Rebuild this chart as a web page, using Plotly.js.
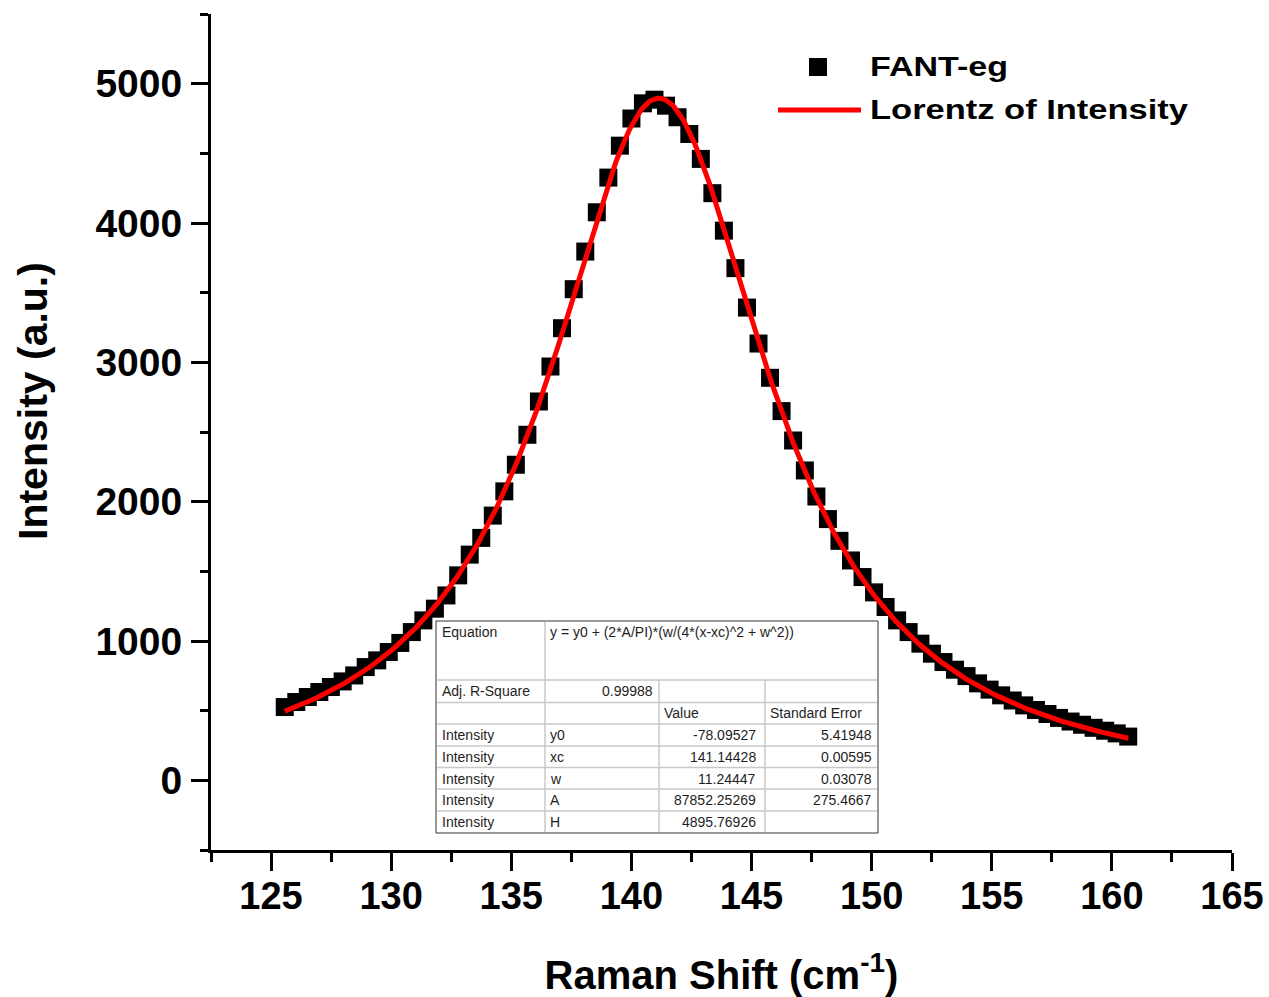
<!DOCTYPE html>
<html>
<head>
<meta charset="utf-8">
<script src="https://cdn.plot.ly/plotly-3.0.1.min.js"></script>
<style>
  html, body { margin: 0; padding: 0; background: #fff; }
  #chart { width: 1269px; height: 997px; }
</style>
</head>
<body>
<div id="chart"></div>
<script>
// Raman band of FANT-eg with its Lorentz fit
const ramanShift = [
  125.57, 126.05, 126.53, 127.01, 127.49, 127.98, 128.46, 128.94, 129.42, 129.90,
  130.38, 130.86, 131.34, 131.82, 132.30, 132.79, 133.27, 133.75, 134.23, 134.71,
  135.19, 135.67, 136.15, 136.63, 137.11, 137.60, 138.08, 138.56, 139.04, 139.52,
  140.00, 140.48, 140.96, 141.44, 141.92, 142.41, 142.89, 143.37, 143.85, 144.33,
  144.81, 145.29, 145.77, 146.25, 146.73, 147.22, 147.70, 148.18, 148.66, 149.14,
  149.62, 150.10, 150.58, 151.06, 151.54, 152.03, 152.51, 152.99, 153.47, 153.95,
  154.43, 154.91, 155.39, 155.87, 156.35, 156.84, 157.32, 157.80, 158.28, 158.76,
  159.24, 159.72, 160.20, 160.68
];
const intensity = [
  526, 562, 598, 634, 670, 710, 753, 813, 861, 921,
  986, 1064, 1148, 1232, 1327, 1471, 1620, 1740, 1900, 2074,
  2265, 2480, 2719, 2970, 3245, 3525, 3795, 4077, 4326, 4555,
  4750, 4859, 4885, 4842, 4759, 4639, 4460, 4214, 3945, 3676,
  3393, 3135, 2889, 2650, 2439, 2224, 2037, 1875, 1719, 1578,
  1459, 1349, 1244, 1148, 1064, 981, 909, 849, 794, 748,
  696, 651, 610, 573, 538, 505, 476, 448, 422, 399,
  377, 356, 337, 314
];

// Fit report
const equationText = 'y = y0 + (2*A/PI)*(w/(4*(x-xc)^2 + w^2))';
const adjRSquare = '0.99988';
const fitParams = ['y0', 'xc', 'w', 'A', 'H'];
const fitValues = ['-78.09527', '141.14428', '11.24447', '87852.25269', '4895.76926'];
const fitErrors = ['5.41948', '0.00595', '0.03078', '275.4667', ''];

// Axis ticks and titles
const xTickVals = [125, 130, 135, 140, 145, 150, 155, 160, 165];
const xTickText = ['125', '130', '135', '140', '145', '150', '155', '160', '165'];
const yTickVals = [0, 1000, 2000, 3000, 4000, 5000];
const yTickText = ['0', '1000', '2000', '3000', '4000', '5000'];
const xTitle = 'Raman Shift (cm<sup>-1</sup>)';
const yTitle = 'Intensity (a.u.)';

const seriesNames = ['FANT-eg', 'Lorentz of Intensity'];

// Lorentz curve evaluated from the fitted parameters over the data span
const y0 = parseFloat(fitValues[0]);
const xc = parseFloat(fitValues[1]);
const w = parseFloat(fitValues[2]);
const A = parseFloat(fitValues[3]);
const fitX = [], fitY = [];
const nFit = 500;
const xStart = ramanShift[0], xEnd = ramanShift[ramanShift.length - 1];
for (let k = 0; k <= nFit; k++) {
  const x = xStart + (xEnd - xStart) * k / nFit;
  fitX.push(x);
  fitY.push(y0 + (2 * A / Math.PI) * (w / (4 * (x - xc) * (x - xc) + w * w)));
}

// Plot frame in pixels (used to place the legend and report table in paper units)
const W = 1269, H = 997;
const M = { l: 211, r: 37, t: 14, b: 147 };
const PW = W - M.l - M.r, PH = H - M.t - M.b;
const px = X => (X - M.l) / PW;
const py = Y => (H - M.b - Y) / PH;

const FONT = 'Liberation Sans, Arial, Helvetica, sans-serif';
const shapes = [];
const annotations = [];

// Y axis title
annotations.push({ xref: 'paper', yref: 'paper', x: px(33), y: py(401),
  xanchor: 'center', yanchor: 'middle', textangle: -90, text: yTitle, showarrow: false,
  font: { family: FONT, size: 41, color: '#000', weight: 700 } });

// Legend
shapes.push({ type: 'rect', xref: 'paper', yref: 'paper',
  x0: px(809), x1: px(827), y0: py(76), y1: py(58),
  fillcolor: '#000', line: { width: 0 } });
shapes.push({ type: 'line', xref: 'paper', yref: 'paper',
  x0: px(778), x1: px(861), y0: py(110), y1: py(110),
  line: { color: '#ff0000', width: 5 } });
const legendFont = { family: FONT, size: 27, color: '#000', weight: 700 };
annotations.push({ xref: 'paper', yref: 'paper', x: px(868), y: py(67),
  xanchor: 'left', yanchor: 'middle', text: seriesNames[0], showarrow: false, font: legendFont });
annotations.push({ xref: 'paper', yref: 'paper', x: px(868), y: py(110),
  xanchor: 'left', yanchor: 'middle', text: seriesNames[1], showarrow: false, font: legendFont });
// legend label widths (px) – the labels are set in a wide bold face
const legendWidths = { 'FANT-eg': 138, 'Lorentz of Intensity': 318 };

// Fit report table
const T = { left: 436, right: 878, top: 621, bottom: 833 };
const rowLines = [680, 702.5, 724, 746, 767.5, 789, 811];
const colLines = [545, 659, 765];
shapes.push({ type: 'rect', xref: 'paper', yref: 'paper', layer: 'above',
  x0: px(T.left), x1: px(T.right), y0: py(T.bottom), y1: py(T.top),
  fillcolor: '#ffffff', line: { color: '#333333', width: 1 } });
rowLines.forEach(Y => shapes.push({ type: 'line', xref: 'paper', yref: 'paper', layer: 'above',
  x0: px(T.left + 1), x1: px(T.right - 1), y0: py(Y), y1: py(Y),
  line: { color: '#c8c8c8', width: 1.5 } }));
colLines.forEach((X, i) => shapes.push({ type: 'line', xref: 'paper', yref: 'paper', layer: 'above',
  x0: px(X), x1: px(X), y0: py(i === 0 ? T.top + 1 : rowLines[0]), y1: py(T.bottom - 1),
  line: { color: '#c8c8c8', width: 1.5 } }));

const cellFont = { family: FONT, size: 14, color: '#1e1e1e' };
function cell(text, X, Y, anchor) {
  annotations.push({ xref: 'paper', yref: 'paper', x: px(X), y: py(Y),
    xanchor: anchor, yanchor: 'middle', text: text, showarrow: false,
    font: cellFont, borderpad: 0 });
}
cell('Equation', 441, 632, 'left');
cell(equationText, 549, 632, 'left');
cell('Adj. R-Square', 441, 691, 'left');
cell(adjRSquare, 654, 691, 'right');
cell('Value', 663, 713, 'left');
cell('Standard Error', 769, 713, 'left');
const rowCenters = [735, 757, 778.5, 800, 822];
fitParams.forEach((p, i) => {
  cell('Intensity', 441, rowCenters[i], 'left');
  cell(p, 549, rowCenters[i], 'left');
  cell(fitValues[i], 757, rowCenters[i], 'right');
  if (fitErrors[i]) cell(fitErrors[i], 873, rowCenters[i], 'right');
});

const xTickFont = { family: FONT, size: 38, color: '#000', weight: 700 };
const yTickFont = { family: FONT, size: 39, color: '#000', weight: 700 };
const titleFont = { family: FONT, size: 40, color: '#000', weight: 700 };

const data = [
  { type: 'scatter', mode: 'markers', name: seriesNames[0],
    x: ramanShift, y: intensity,
    marker: { symbol: 'square', size: 18, color: '#000', line: { width: 0 } } },
  { type: 'scatter', mode: 'lines', name: seriesNames[1],
    x: fitX, y: fitY,
    line: { color: '#ff0000', width: 5 } }
];

const layout = {
  width: W, height: H,
  margin: M,
  paper_bgcolor: '#fff', plot_bgcolor: '#fff',
  showlegend: false,
  font: { family: FONT, color: '#000' },
  xaxis: {
    range: [122.5, 165],
    tickmode: 'array', tickvals: xTickVals, ticktext: xTickText,
    ticks: 'outside', ticklen: 18, tickwidth: 3, tickcolor: '#000',
    ticklabelstandoff: -8,
    minor: { tickmode: 'linear', tick0: 122.5, dtick: 2.5, ticks: 'outside',
             ticklen: 9, tickwidth: 3, tickcolor: '#000', showgrid: false },
    showline: true, linewidth: 3, linecolor: '#000',
    showgrid: false, zeroline: false, mirror: false,
    tickfont: xTickFont,
    title: { text: xTitle, font: titleFont, standoff: 46 }
  },
  yaxis: {
    range: [-500, 5500],
    tickmode: 'array', tickvals: yTickVals, ticktext: yTickText,
    ticks: 'outside', ticklen: 17, tickwidth: 3, tickcolor: '#000',
    ticklabelstandoff: 1,
    minor: { tickmode: 'linear', tick0: 0, dtick: 500, ticks: 'outside',
             ticklen: 8, tickwidth: 3, tickcolor: '#000', showgrid: false },
    showline: true, linewidth: 3, linecolor: '#000',
    showgrid: false, zeroline: false, mirror: false,
    tickfont: yTickFont
  },
  shapes: shapes,
  annotations: annotations
};

Plotly.newPlot('chart', data, layout, { staticPlot: true, displayModeBar: false }).then(gd => {
  // widen the legend labels to their set widths, keeping their left edges
  gd.querySelectorAll('text.annotation-text').forEach(t => {
    const L = legendWidths[t.textContent];
    if (!L) return;
    const bb = t.getBBox();
    t.setAttribute('text-anchor', 'start');
    t.setAttribute('x', bb.x);
    t.setAttribute('textLength', L);
    t.setAttribute('lengthAdjust', 'spacingAndGlyphs');
  });
});
</script>
</body>
</html>
